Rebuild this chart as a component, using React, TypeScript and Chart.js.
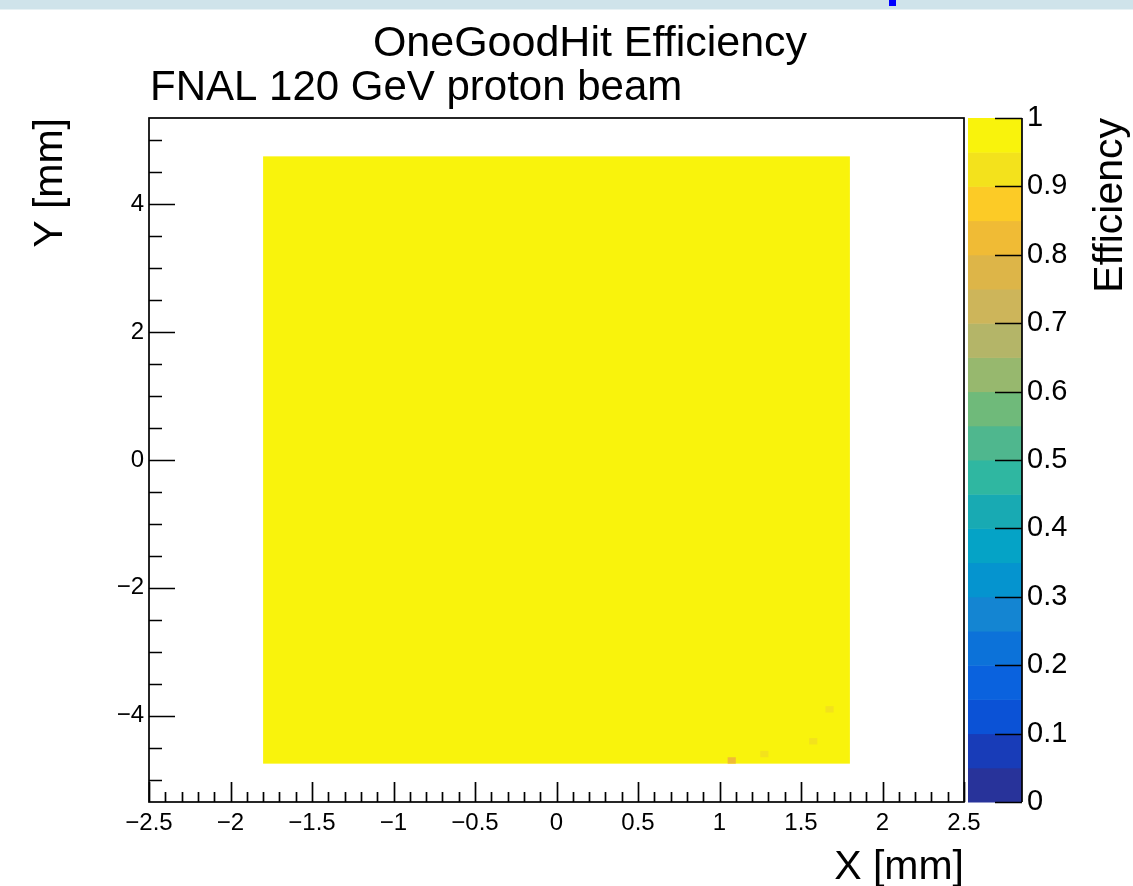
import React, { useEffect, useRef } from 'react';
import { Chart, registerables } from 'chart.js';

Chart.register(...registerables);

// ---------- data ----------
const xRange = [-2.5, 2.5];
const yRange = [-5.35, 5.35];
const zRange = [0, 1];
const xTicks = [-2.5, -2, -1.5, -1, -0.5, 0, 0.5, 1, 1.5, 2, 2.5];
const yTicks = [-4, -2, 0, 2, 4];
const zTicks = [0, 0.1, 0.2, 0.3, 0.4, 0.5, 0.6, 0.7, 0.8, 0.9, 1];

// active sensor region (mm) and its efficiency
const sensorX = [-1.8, 1.8];
const sensorY = [-4.75, 4.75];
const sensorEfficiency = 1.0;

// bins with lower efficiency (lower-left corner, mm)
const binWidth = 0.05;
const binHeight = 0.1;
const defectX = [1.05, 1.25, 1.55, 1.65];
const defectY = [-4.75, -4.65, -4.45, -3.95];
const defectEff = [0.83, 0.91, 0.91, 0.92];

// colour palette, from 0 to 1 (20 levels)
const paletteColors = [
  '#28339a', '#183cb8', '#0b52d6', '#0a62de', '#0c72d9',
  '#1485d2', '#0594cf', '#05a3c6', '#18aab3', '#2fb7a1',
  '#4fb78e', '#6fba7a', '#97b86e', '#b4b568', '#cdb55a',
  '#ddb548', '#f0bb35', '#fccb26', '#f3e21c', '#f9f30c',
];

const titleText = 'OneGoodHit Efficiency';
const subtitleText = 'FNAL 120 GeV proton beam';
const xTitle = 'X [mm]';
const yTitle = 'Y [mm]';
const zTitle = 'Efficiency';

// ---------- layout constants ----------
const W = 1133;
const H = 886;
const FONT = '"Liberation Sans", Arial, Helvetica, sans-serif';
const AREA_LEFT = 149;
const AREA_TOP = 118;
const AREA_RIGHT = 964;
const AREA_BOTTOM = 802;
const Y_AXIS_W = 60;
const X_AXIS_H = 50;
const CB_LEFT = 968;
const CB_RIGHT = 1022;

function fmt(v: number): string {
  const r = Math.round(v * 100) / 100;
  return (r < 0 ? '\u2212' : '') + String(Math.abs(r));
}

function colorFor(v: number): string {
  const n = paletteColors.length;
  let i = Math.floor(v * n + 1e-9);
  if (i >= n) i = n - 1;
  if (i < 0) i = 0;
  return paletteColors[i];
}

const rootPlugin = {
  id: 'rootStyle',
  beforeDraw(chart: any) {
    const ctx = chart.ctx;
    ctx.save();
    ctx.fillStyle = '#ffffff';
    ctx.fillRect(0, 0, chart.width, chart.height);
    ctx.fillStyle = '#cfe3ea';
    ctx.fillRect(0, 0, chart.width, 9.5);
    ctx.fillStyle = '#0000ff';
    ctx.fillRect(889, 0, 7, 6);
    ctx.restore();
  },
  afterLayout(chart: any) {
    const z = chart.scales.z;
    const w = z.right - z.left;
    z.left = CB_RIGHT;
    z.right = CB_RIGHT + w;
  },
  beforeDatasetsDraw(chart: any) {
    const { ctx, scales } = chart;
    const x = scales.x;
    const y = scales.y;
    ctx.save();
    const sx0 = x.getPixelForValue(sensorX[0]);
    const sx1 = x.getPixelForValue(sensorX[1]);
    const sy0 = y.getPixelForValue(sensorY[1]);
    const sy1 = y.getPixelForValue(sensorY[0]);
    ctx.fillStyle = colorFor(sensorEfficiency);
    ctx.fillRect(sx0, sy0, sx1 - sx0, sy1 - sy0);
    for (let i = 0; i < defectX.length; i++) {
      const px0 = x.getPixelForValue(defectX[i]);
      const px1 = x.getPixelForValue(defectX[i] + binWidth);
      const py0 = y.getPixelForValue(defectY[i] + binHeight);
      const py1 = y.getPixelForValue(defectY[i]);
      ctx.fillStyle = colorFor(defectEff[i]);
      ctx.fillRect(px0, py0, px1 - px0, py1 - py0);
    }
    ctx.restore();
  },
  afterDraw(chart: any) {
    const { ctx, chartArea, scales } = chart;
    const x = scales.x;
    const y = scales.y;
    const z = scales.z;
    ctx.save();
    ctx.strokeStyle = '#000';
    ctx.lineWidth = 1.7;
    ctx.strokeRect(chartArea.left, chartArea.top, chartArea.right - chartArea.left, chartArea.bottom - chartArea.top);

    ctx.beginPath();
    for (let i = 0; i <= 50; i++) {
      const v = xRange[0] + i * 0.1;
      const px = Math.round(x.getPixelForValue(v)) + 0.5;
      const len = i % 5 === 0 ? 20 : 10;
      ctx.moveTo(px, chartArea.bottom);
      ctx.lineTo(px, chartArea.bottom - len);
    }
    for (let i = 0; i <= 20; i++) {
      const v = -5 + i * 0.5;
      const py = Math.round(y.getPixelForValue(v)) + 0.5;
      const len = i % 4 === 2 ? 26 : 13;
      ctx.moveTo(chartArea.left, py);
      ctx.lineTo(chartArea.left + len, py);
    }
    ctx.stroke();

    const n = paletteColors.length;
    for (let i = 0; i < n; i++) {
      const lo = zRange[0] + (i * (zRange[1] - zRange[0])) / n;
      const hi = zRange[0] + ((i + 1) * (zRange[1] - zRange[0])) / n;
      const p0 = z.getPixelForValue(hi);
      const p1 = z.getPixelForValue(lo);
      ctx.fillStyle = paletteColors[i];
      ctx.fillRect(CB_LEFT, p0, CB_RIGHT - CB_LEFT, p1 - p0 + 0.5);
    }
    ctx.beginPath();
    ctx.moveTo(CB_RIGHT, z.getPixelForValue(zRange[0]));
    ctx.lineTo(CB_RIGHT, z.getPixelForValue(zRange[1]));
    for (const t of zTicks) {
      const py = Math.round(z.getPixelForValue(t)) + 0.5;
      ctx.moveTo(CB_RIGHT, py);
      ctx.lineTo(CB_RIGHT - 27, py);
    }
    ctx.stroke();

    ctx.fillStyle = '#000';
    ctx.textBaseline = 'alphabetic';
    ctx.font = `43px ${FONT}`;
    ctx.textAlign = 'center';
    ctx.fillText(titleText, 590, 56);
    ctx.font = `42px ${FONT}`;
    ctx.textAlign = 'left';
    ctx.fillText(subtitleText, 150, 100);
    ctx.font = `41px ${FONT}`;
    ctx.textAlign = 'right';
    ctx.fillText(xTitle, 964, 879);

    ctx.save();
    ctx.translate(62, 118);
    ctx.rotate(-Math.PI / 2);
    ctx.textAlign = 'right';
    ctx.fillText(yTitle, 0, 0);
    ctx.restore();

    ctx.save();
    ctx.translate(1122, 118);
    ctx.rotate(-Math.PI / 2);
    ctx.textAlign = 'right';
    ctx.fillText(zTitle, 0, 0);
    ctx.restore();

    ctx.restore();
  },
};

export default function App() {
  const canvasRef = useRef<HTMLCanvasElement | null>(null);

  useEffect(() => {
    const canvas = canvasRef.current;
    if (!canvas) return;
    const tickFont = (size: number) => ({ family: FONT, size });
    const chart = new Chart(canvas, {
      type: 'scatter',
      data: { datasets: [] },
      options: {
        animation: false,
        responsive: false,
        devicePixelRatio: 1,
        events: [],
        layout: {
          padding: {
            left: AREA_LEFT - Y_AXIS_W,
            top: AREA_TOP,
            right: 0,
            bottom: H - AREA_BOTTOM - X_AXIS_H,
          },
        },
        plugins: {
          legend: { display: false },
          tooltip: { enabled: false },
          title: { display: false },
        },
        scales: {
          x: {
            type: 'linear',
            position: 'bottom',
            min: xRange[0],
            max: xRange[1],
            afterBuildTicks: (s: any) => {
              s.ticks = xTicks.map((value) => ({ value }));
            },
            afterFit: (s: any) => {
              s.height = X_AXIS_H;
            },
            grid: { display: false, drawTicks: false, tickLength: 0 },
            border: { display: false },
            ticks: {
              autoSkip: false,
              maxRotation: 0,
              padding: 7,
              color: '#000',
              font: tickFont(24),
              callback: (v: any) => fmt(Number(v)),
            },
          },
          y: {
            type: 'linear',
            position: 'left',
            min: yRange[0],
            max: yRange[1],
            afterBuildTicks: (s: any) => {
              s.ticks = yTicks.map((value) => ({ value }));
            },
            afterFit: (s: any) => {
              s.width = Y_AXIS_W;
            },
            grid: { display: false, drawTicks: false, tickLength: 0 },
            border: { display: false },
            ticks: {
              autoSkip: false,
              padding: 5,
              color: '#000',
              font: tickFont(24),
              callback: (v: any) => fmt(Number(v)),
            },
          },
          z: {
            type: 'linear',
            axis: 'y',
            position: 'right',
            min: zRange[0],
            max: zRange[1],
            afterBuildTicks: (s: any) => {
              s.ticks = zTicks.map((value) => ({ value }));
            },
            afterFit: (s: any) => {
              s.width = W - AREA_RIGHT;
            },
            grid: { display: false, drawTicks: false, tickLength: 0 },
            border: { display: false },
            ticks: {
              autoSkip: false,
              padding: 5,
              color: '#000',
              font: tickFont(29),
              callback: (v: any) => fmt(Number(v)),
            },
          },
        },
      } as any,
      plugins: [rootPlugin],
    });
    return () => {
      chart.destroy();
    };
  }, []);

  return (
    <div style={{ position: 'absolute', left: 0, top: 0, width: W, height: H, background: '#fff' }}>
      <canvas ref={canvasRef} width={W} height={H} style={{ display: 'block', width: W, height: H }} />
    </div>
  );
}
